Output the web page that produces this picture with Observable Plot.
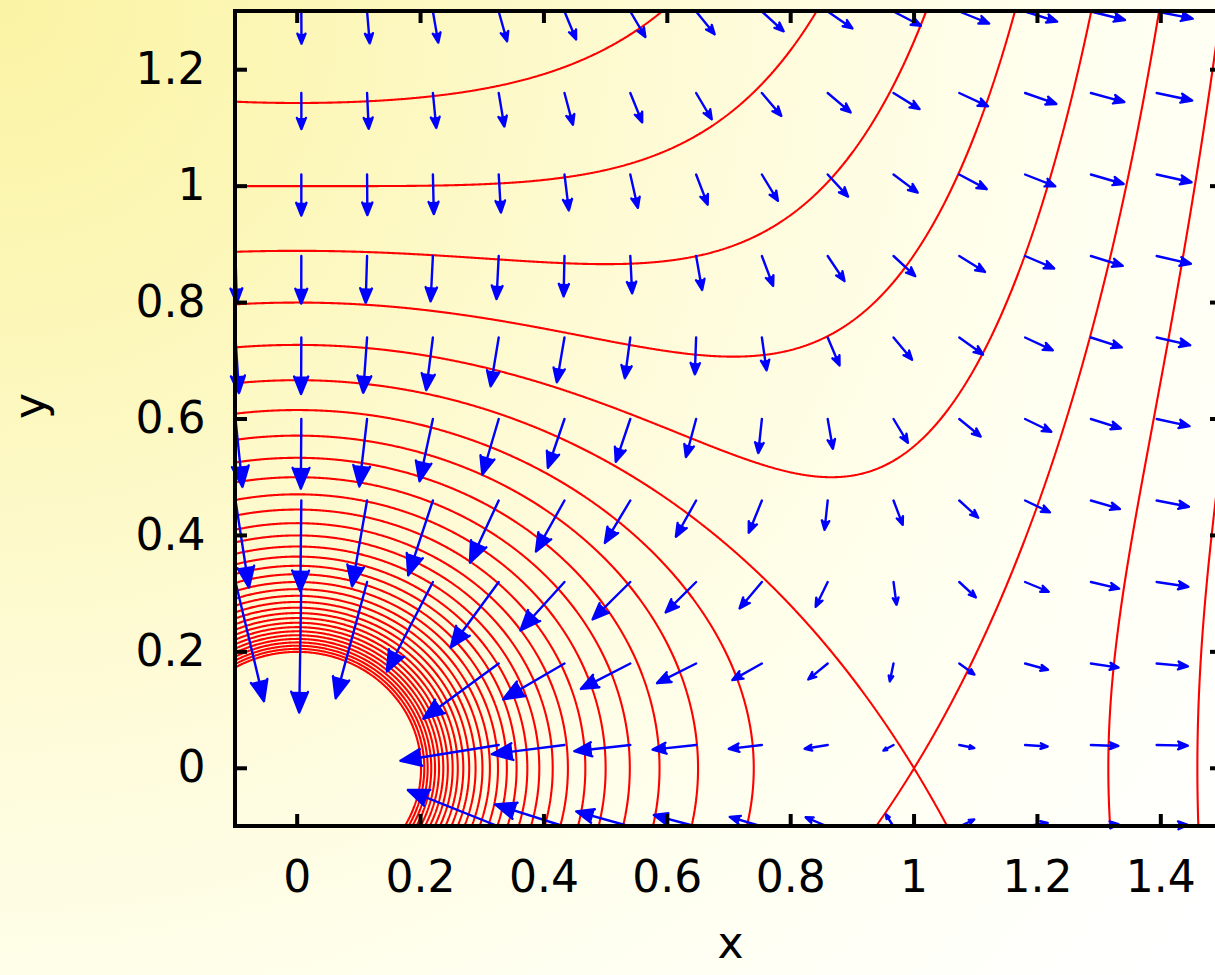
<!DOCTYPE html>
<html>
<head>
<meta charset="utf-8">
<script src="https://cdn.jsdelivr.net/npm/d3@7"></script>
<script src="https://cdn.jsdelivr.net/npm/@observablehq/plot@0.6"></script>
<style>
html, body { margin: 0; padding: 0; overflow: hidden; width: 1215px; height: 975px; }
body { background: radial-gradient(circle at 0 0, #faf3a4 0px, #fcf7b8 320px, #fefbd9 720px, #fffff0 1100px, #ffffff 1500px); }
#chart { width: 1215px; height: 975px; }
</style>
</head>
<body>
<div id="chart"></div>
<script>
// ---- data ----
const xDomain = [-0.1, 1.5];
const yDomain = [-0.1, 1.3];
const xTicks = [0, 0.2, 0.4, 0.6, 0.8, 1, 1.2, 1.4];
const yTicks = [0, 0.2, 0.4, 0.6, 0.8, 1, 1.2];
// sample positions of the vector field (16 columns x 11 rows)
const xSamples = [-0.1, 0.0067, 0.1133, 0.22, 0.3267, 0.4333, 0.54, 0.6467, 0.7533, 0.86, 0.9667, 1.0733, 1.18, 1.2867, 1.3933, 1.5];
const ySamples = [-0.1, 0.04, 0.18, 0.32, 0.46, 0.6, 0.74, 0.88, 1.02, 1.16, 1.3];
// contour levels of the potential
const contourLevels = [-5, -4.875, -4.75, -4.625, -4.5, -4.375, -4.25, -4.125, -4, -3.875, -3.75, -3.625,
  -3.5, -3.375, -3.25, -3.125, -3, -2.875, -2.75, -2.625, -2.5, -2.375, -2.25, -2.125, -2, -1.875,
  -1.75, -1.625, -1.5, -1.375, -1.25, -1.125, -1, -0.875];
const minArrowRadius = 0.3;

// potential: point mass at origin plus tidal term
function potential(x, y) {
  const r = Math.hypot(x, y);
  return Math.max(-1 / r - x * x / 2, -1000);
}
function field(x, y) {
  const r = Math.hypot(x, y), r3 = r * r * r;
  return [x - x / r3, -y / r3];
}

// arrow scaling (style): length grows with sqrt of field strength
const kx = 0.0538, ky = 0.0718;
const arrows = [];
for (const y of ySamples) {
  for (const x of xSamples) {
    if (Math.hypot(x, y) < minArrowRadius) continue;
    const [fx, fy] = field(x, y);
    const m = Math.sqrt(Math.hypot(fx, fy));
    const x2 = x + kx * fx / m, y2 = y + ky * fy / m;
    if (x2 < xDomain[0] || x2 > xDomain[1] || y2 < yDomain[0] || y2 > yDomain[1]) continue;
    arrows.push({x1: x, y1: y, x2, y2});
  }
}

const tlx = 12 / 582; // tick length in y data units (vertical ticks)
const tly = 12 / 617; // tick length in x data units (horizontal ticks)

const chart = Plot.plot({
  width: 1215,
  height: 975,
  marginLeft: 235,
  marginTop: 11,
  marginBottom: 149,
  marginRight: 0,
  x: {domain: xDomain, range: [235, 1222]},
  y: {domain: yDomain, range: [826, 11]},
  style: {background: "transparent", fontFamily: "'DejaVu Sans', sans-serif", color: "black", overflow: "hidden"},
  marks: [
    Plot.contour({
      value: potential,
      x1: xDomain[0], x2: xDomain[1], y1: yDomain[0], y2: yDomain[1],
      thresholds: contourLevels,
      stroke: "#ff0000", strokeWidth: 2.1, fill: "none", pixelSize: 1
    }),
    Plot.arrow(arrows, {
      x1: "x1", y1: "y1", x2: "x2", y2: "y2",
      stroke: "#0000ff", fill: "#0000ff", strokeWidth: 2.4, headLength: 14, headAngle: 44
    }),
    // inward ticks on all four sides
    Plot.ruleX(xTicks, {x: d => d, y1: yDomain[0], y2: yDomain[0] + tlx, stroke: "black", strokeWidth: 4}),
    Plot.ruleX(xTicks, {x: d => d, y1: yDomain[1] - tlx, y2: yDomain[1], stroke: "black", strokeWidth: 4}),
    Plot.ruleY(yTicks, {y: d => d, x1: xDomain[0], x2: xDomain[0] + tly, stroke: "black", strokeWidth: 4}),
    Plot.ruleY(yTicks, {y: d => d, x1: xDomain[1] - tly, x2: xDomain[1], stroke: "black", strokeWidth: 4}),
    // frame
    Plot.rect([0], {x1: xDomain[0], x2: xDomain[1], y1: yDomain[0], y2: yDomain[1], fill: "none", stroke: "black", strokeWidth: 4}),
    Plot.axisX(xTicks, {anchor: "bottom", tickSize: 0, tickPadding: 34, fontSize: 44, label: null, tickFormat: d => String(d)}),
    Plot.axisY(yTicks, {anchor: "left", tickSize: 0, tickPadding: 30, fontSize: 44, label: null, tickFormat: d => String(d)}),
    Plot.text(["x"], {frameAnchor: "bottom", dx: 5, dy: 117, lineAnchor: "middle", fontSize: 44}),
    Plot.text(["y"], {frameAnchor: "left", dx: -205, rotate: -90, fontSize: 44})
  ]
});
document.getElementById("chart").append(chart);
</script>
</body>
</html>
